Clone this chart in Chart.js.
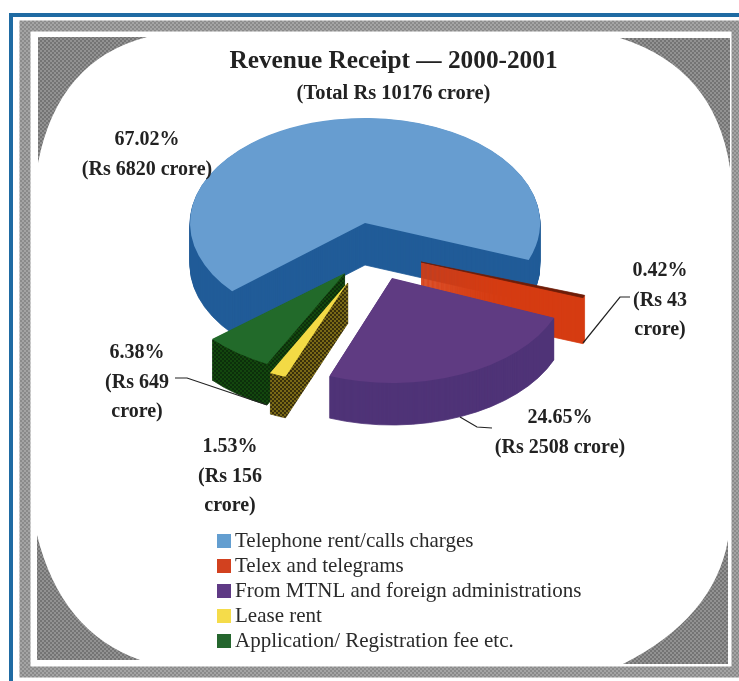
<!DOCTYPE html>
<html>
<head>
<meta charset="utf-8">
<title>Revenue Receipt</title>
<script src="https://cdn.jsdelivr.net/npm/chart.js@4"></script>
<style>
  html, body { margin: 0; padding: 0; background: #fff; }
  canvas { display: block; }
</style>
</head>
<body>
<canvas id="pie-chart" width="739" height="681"></canvas>
<script>
const categories = [
  "Telephone rent/calls charges",
  "Telex and telegrams",
  "From MTNL and foreign administrations",
  "Lease rent",
  "Application/ Registration fee etc.",
];
const crores = [6820, 43, 2508, 156, 649];
const percents = ["67.02%", "0.42%", "24.65%", "1.53%", "6.38%"];
const totalCrore = 10176;

const topColors = ["#679dd0", "#6e1c08", "#5f3b82", "#f3da45", "#226a2a"];
const legendColors = ["#639ed0", "#d2411f", "#5f3a85", "#f5dc4a", "#25662e"];
const serif = "'Liberation Serif', serif";

// small repeating dot tile, used for the grey frame and the rough side walls
function dots(base, dot, size) {
  const tile = document.createElement("canvas");
  tile.width = tile.height = size;
  const c = tile.getContext("2d");
  c.fillStyle = base;
  c.fillRect(0, 0, size, size);
  c.fillStyle = dot;
  c.fillRect(0, 0, size / 2, size / 2);
  c.fillRect(size / 2, size / 2, size / 2, size / 2);
  return c.createPattern(tile, "repeat");
}

const sideColors = [
  "#215c98",
  "#d63c12",
  "#4f3377",
  dots("#7a6a18", "#3a300c", 4),
  dots("#14480f", "#0d300c", 4),
];

// pie placement on the page
const center = { x: 365, y: 223 };
const sliceSquash = [0.6, 0.54, 0.6, 0.58, 0.58];
const sliceShift = [
  { x: 0, y: 0 },
  { x: 56, y: 39 },
  { x: 27, y: 55 },
  { x: -17, y: 59 },
  { x: -20, y: 50 },
];
const sliceDepth = [42, 46, 42, 41, 41];
const drawOrder = [0, 1, 2, 4, 3];

// each slice is stacked downwards in its dark colour, then capped with the top colour
const tiltedPie = {
  id: "tiltedPie",
  beforeDatasetsDraw(chart) {
    const ctx = chart.ctx;
    const arcs = chart.getDatasetMeta(0).data;
    const paint = (i, dy, color, edge) => {
      const arc = arcs[i];
      const saved = arc.options;
      arc.options = Object.assign(Object.create(saved), {
        backgroundColor: color,
        borderColor: color,
        borderWidth: edge,
      });
      ctx.save();
      ctx.translate(center.x + sliceShift[i].x, center.y + sliceShift[i].y + dy);
      ctx.scale(1, sliceSquash[i]);
      ctx.translate(-arc.x, -arc.y);
      // keep dot tiles fixed to the page while the slice is stacked
      if (color instanceof CanvasPattern) color.setTransform(ctx.getTransform().inverse());
      arc.draw(ctx);
      ctx.restore();
      arc.options = saved;
    };
    drawOrder.forEach((i) => {
      for (let d = sliceDepth[i]; d > 0; d--) paint(i, d, sideColors[i], 1);
      paint(i, 0, topColors[i], i === 1 ? 1 : 0);
    });
    return false;
  },
};

const framePlugin = {
  id: "frame",
  beforeDraw(chart) {
    const ctx = chart.ctx;
    const hatch = dots("#a4a4a4", "#8a8a8a", 4);
    const cornerHatch = dots("#929292", "#747474", 4);
    ctx.save();
    ctx.fillStyle = "#fff";
    ctx.fillRect(0, 0, 739, 681);
    ctx.strokeStyle = "#1f6ba3";
    ctx.lineWidth = 4;
    ctx.beginPath();
    ctx.moveTo(11, 681);
    ctx.lineTo(11, 15);
    ctx.lineTo(739, 15);
    ctx.stroke();
    ctx.strokeStyle = hatch;
    ctx.lineWidth = 11;
    ctx.beginPath();
    ctx.moveTo(25, 672);
    ctx.lineTo(25, 26);
    ctx.lineTo(737, 26);
    ctx.lineTo(737, 672);
    ctx.closePath();
    ctx.stroke();
    ctx.fillStyle = cornerHatch;
    const corners = [
      [38, 37, 147, 37, 58, 60, 38, 163],
      [730, 38, 620, 38, 715, 68, 730, 168],
      [37, 660, 37, 535, 61, 632, 140, 660],
      [728, 664, 728, 540, 714, 618, 623, 664],
    ];
    corners.forEach((k) => {
      ctx.beginPath();
      ctx.moveTo(k[0], k[1]);
      ctx.lineTo(k[2], k[3]);
      ctx.quadraticCurveTo(k[4], k[5], k[6], k[7]);
      ctx.closePath();
      ctx.fill();
    });
    ctx.restore();
  },
};

// value captions with their leader lines, and the legend column
const captionPlugin = {
  id: "captions",
  afterDraw(chart) {
    const ctx = chart.ctx;
    const rs = (i) => "(Rs " + crores[i];
    const captions = [
      [147, 140, [percents[0], rs(0) + " crore)"]],
      [660, 271, [percents[1], rs(1), "crore)"]],
      [560, 418, [percents[2], rs(2) + " crore)"]],
      [230, 447, [percents[3], rs(3), "crore)"]],
      [137, 353, [percents[4], rs(4), "crore)"]],
    ];
    ctx.save();
    ctx.strokeStyle = "#222";
    ctx.lineWidth = 1.2;
    [
      [[583, 343], [620, 297], [630, 297]],
      [[460, 417], [477, 427], [492, 428]],
      [[175, 378], [187, 378], [267, 405]],
    ].forEach((line) => {
      ctx.beginPath();
      line.forEach((p, n) => (n ? ctx.lineTo(p[0], p[1]) : ctx.moveTo(p[0], p[1])));
      ctx.stroke();
    });

    ctx.fillStyle = "#222";
    ctx.font = "bold 20px " + serif;
    ctx.textAlign = "center";
    ctx.textBaseline = "middle";
    captions.forEach(([x, y, lines]) => {
      lines.forEach((text, n) => ctx.fillText(text, x, y + n * 29.5));
    });

    ctx.font = "21px " + serif;
    ctx.textAlign = "left";
    const rows = [541, 566, 591, 616, 641];
    categories.forEach((name, i) => {
      ctx.fillStyle = legendColors[i];
      ctx.fillRect(217, rows[i] - 7, 14, 14);
      ctx.fillStyle = "#2a2a2a";
      ctx.fillText(name, 235, rows[i]);
    });
    ctx.restore();
  },
};

const pieChart = new Chart(document.querySelector("#pie-chart").getContext("2d"), {
  type: "pie",
  data: {
    labels: categories,
    datasets: [{ data: crores, backgroundColor: topColors, borderWidth: 0 }],
  },
  options: {
    responsive: false,
    animation: false,
    events: [],
    rotation: 229.4,
    radius: 175,
    layout: { padding: { left: 48, top: 46 } },
    plugins: {
      legend: { display: false },
      tooltip: { enabled: false },
      title: {
        display: true,
        text: "Revenue Receipt — 2000-2001",
        color: "#222",
        font: { family: serif, size: 25.3, weight: "bold" },
        padding: { top: 0, bottom: 5 },
      },
      subtitle: {
        display: true,
        text: "(Total Rs " + totalCrore + " crore)",
        color: "#222",
        font: { family: serif, size: 20.5, weight: "bold" },
        padding: 0,
      },
    },
  },
  plugins: [framePlugin, tiltedPie, captionPlugin],
});
</script>
</body>
</html>
